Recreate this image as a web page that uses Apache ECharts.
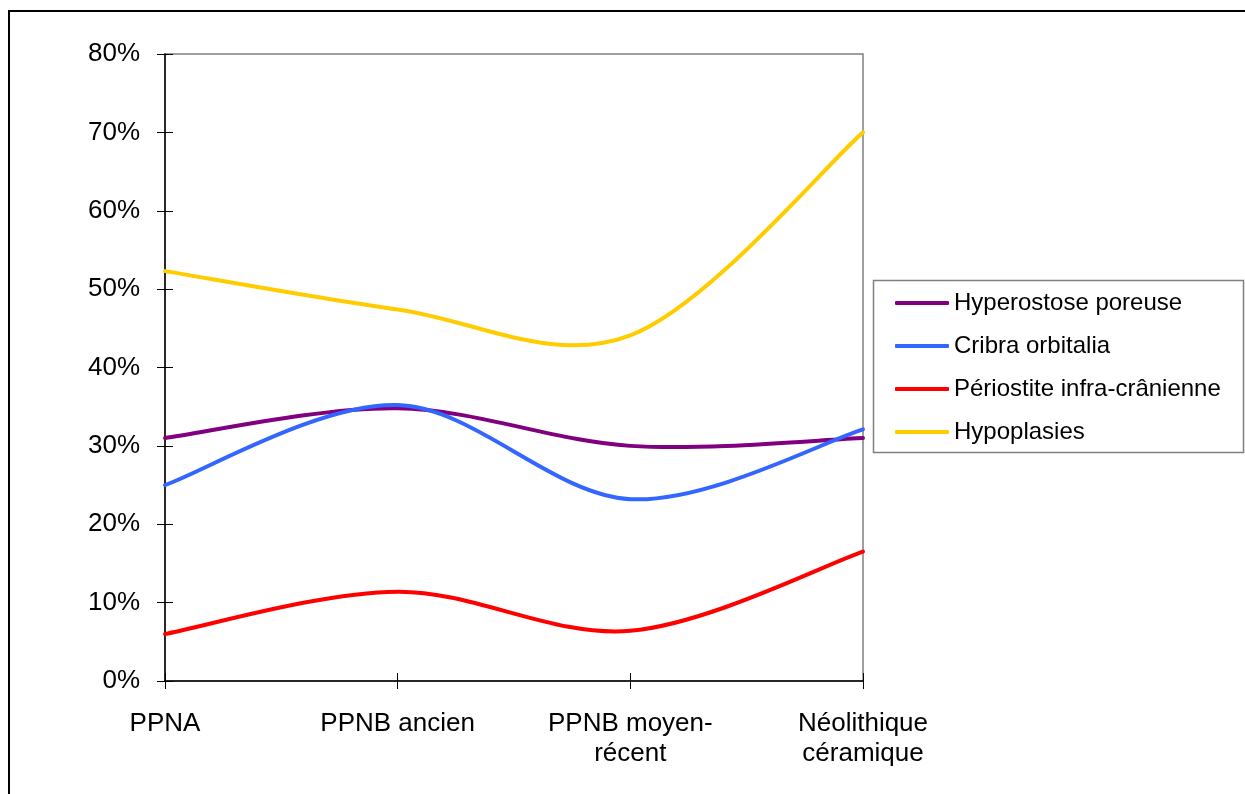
<!DOCTYPE html>
<html>
<head>
<meta charset="utf-8">
<script src="https://cdn.jsdelivr.net/npm/echarts@6/dist/echarts.min.js"></script>
<style>
  html, body { margin: 0; padding: 0; background: #fff; }
  #chart { width: 1245px; height: 794px; }
</style>
</head>
<body>
<div id="chart"></div>
<script>
// periods on the x axis
let periods = ['PPNA', 'PPNB ancien', 'PPNB moyen-\nrécent', 'Néolithique\ncéramique'];

// prevalence values (%)
let hyperostose = [31, 34.8, 30, 31];
let cribra = [25, 35.2, 23.2, 32.1];
let periostite = [6, 11.4, 6.4, 16.5];
let hypoplasies = [52.3, 47.4, 44.1, 70];

let seriesNames = ['Hyperostose poreuse', 'Cribra orbitalia', 'Périostite infra-crânienne', 'Hypoplasies'];
let seriesColors = ['#800080', '#3366FF', '#FF0000', '#FFCC00'];
let seriesData = [hyperostose, cribra, periostite, hypoplasies];

let font = 'Liberation Sans, Arial, sans-serif';

// smoothed line like a spreadsheet: cardinal spline through the points
function smoothLine(params, api) {
    if (params.dataIndexInside !== 0) return null;
    let n = params.dataInsideLength;
    let pts = [];
    for (let i = 0; i < n; i++) {
        pts.push(api.coord([api.value(0, i), api.value(1, i)]));
    }
    let d = 'M' + pts[0][0] + ' ' + pts[0][1];
    for (let i = 0; i < n - 1; i++) {
        let p0 = pts[Math.max(i - 1, 0)];
        let p1 = pts[i];
        let p2 = pts[i + 1];
        let p3 = pts[Math.min(i + 2, n - 1)];
        let c1 = [p1[0] + (p2[0] - p0[0]) / 6, p1[1] + (p2[1] - p0[1]) / 6];
        let c2 = [p2[0] - (p3[0] - p1[0]) / 6, p2[1] - (p3[1] - p1[1]) / 6];
        d += ' C' + c1[0] + ' ' + c1[1] + ' ' + c2[0] + ' ' + c2[1] + ' ' + p2[0] + ' ' + p2[1];
    }
    return {
        type: 'path',
        shape: { pathData: d },
        style: { fill: 'none', stroke: api.visual('color'), lineWidth: 4, lineCap: 'round' }
    };
}

let series = [];
for (let i = 0; i < seriesNames.length; i++) {
    series.push({
        name: seriesNames[i],
        type: 'custom',
        renderItem: smoothLine,
        data: seriesData[i].map(function (v, k) { return [k, v]; }),
        encode: { x: 0, y: 1 },
        itemStyle: { color: seriesColors[i] },
        xAxisIndex: 0,
        yAxisIndex: 0,
        z: 3
    });
}

let option = {
    animation: false,
    backgroundColor: '#fff',
    textStyle: { fontFamily: font },
    grid: {
        left: 165, right: 382, top: 54, bottom: 113,
        show: true, borderColor: '#808080', borderWidth: 1.5
    },
    legend: {
        orient: 'vertical',
        left: 890,
        top: 286,
        itemWidth: 54,
        itemHeight: 4,
        itemGap: 19,
        icon: 'roundRect',
        textStyle: { fontFamily: font, fontSize: 24, color: '#000' },
        data: seriesNames
    },
    xAxis: [
        {
            type: 'category',
            data: periods,
            boundaryGap: false,
            axisLine: { lineStyle: { color: '#000', width: 1.5 } },
            axisTick: { length: 8, lineStyle: { color: '#000' } },
            axisLabel: {
                color: '#000', fontSize: 26, fontFamily: font,
                margin: 28, lineHeight: 30, interval: 0
            },
            splitLine: { show: false }
        },
        {
            type: 'category',
            data: periods,
            boundaryGap: false,
            position: 'bottom',
            axisLine: { show: false },
            axisTick: { inside: true, length: 8, lineStyle: { color: '#000' } },
            axisLabel: { show: false },
            splitLine: { show: false }
        }
    ],
    yAxis: [
        {
            type: 'value',
            min: 0, max: 80, interval: 10,
            axisLine: { show: true, lineStyle: { color: '#000', width: 1.5 } },
            axisTick: { show: true, length: 8, lineStyle: { color: '#000' } },
            axisLabel: {
                color: '#000', fontSize: 26, fontFamily: font, margin: 25,
                formatter: '{value}%'
            },
            splitLine: { show: false }
        },
        {
            type: 'value',
            min: 0, max: 80, interval: 10,
            position: 'left',
            axisLine: { show: false },
            axisTick: { show: true, inside: true, length: 8, lineStyle: { color: '#000' } },
            axisLabel: { show: false },
            splitLine: { show: false }
        }
    ],
    graphic: [
        {
            type: 'rect',
            shape: { x: 9, y: 11, width: 1260, height: 800 },
            style: { fill: 'none', stroke: '#000', lineWidth: 2 },
            silent: true
        },
        {
            type: 'rect',
            shape: { x: 873.5, y: 280.5, width: 370, height: 172 },
            style: { fill: 'none', stroke: '#808080', lineWidth: 1.5 },
            silent: true
        }
    ],
    series: series
};

let chart = echarts.init(document.getElementById('chart'));
chart.setOption(option);
</script>
</body>
</html>
